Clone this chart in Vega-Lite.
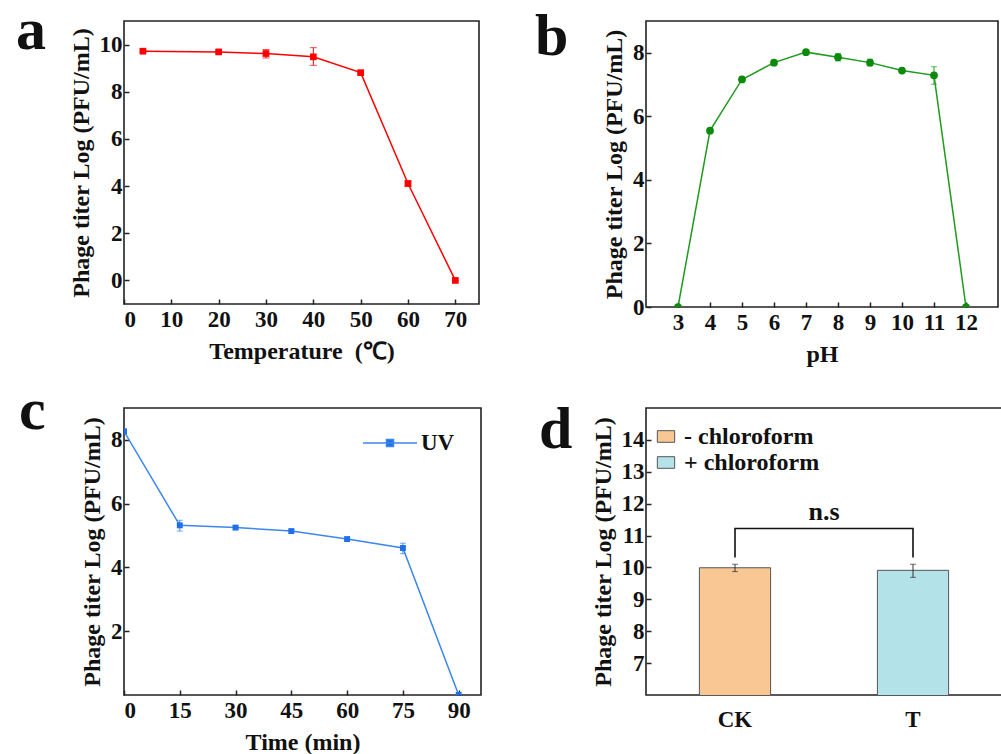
{
  "$schema": "https://vega.github.io/schema/vega-lite/v6.json",
  "background": "white",
  "padding": {"left": 15, "top": 0, "right": 0, "bottom": 0},
  "columns": 2,
  "spacing": {"row": 13, "column": 52},
  "resolve": {"scale": {"color": "independent"}, "legend": {"color": "independent"}},
  "config": {
    "font": "Liberation Serif",
    "view": {"stroke": "#222222", "strokeWidth": 1.6},
    "title": {"font": "Liberation Serif", "fontWeight": "bold", "color": "#111111"},
    "axis": {
      "labelFont": "Liberation Serif", "labelFontWeight": "bold", "labelFontSize": 23, "labelColor": "#111111",
      "titleFont": "Liberation Serif", "titleFontWeight": "bold", "titleFontSize": 24, "titleColor": "#111111",
      "grid": false, "domain": false, "tickSize": -5, "tickWidth": 1.5, "tickColor": "#222222",
      "labelPadding": 7, "titlePadding": 6
    },
    "axisX": {"labelPadding": 9, "titlePadding": 8},
    "legend": {"labelFont": "Liberation Serif", "labelFontWeight": "bold", "labelColor": "#111111"}
  },
  "concat": [
    {
      "width": 355, "height": 283,
      "title": {"text": "a", "anchor": "start", "frame": "group", "fontSize": 60, "dx": -108, "dy": 88, "baseline": "alphabetic", "offset": 0},
      "data": {"values": [
        {"temp": 4, "titer": 9.72, "lo": 9.68, "hi": 9.76},
        {"temp": 20, "titer": 9.69, "lo": 9.65, "hi": 9.73},
        {"temp": 30, "titer": 9.62, "lo": 9.43, "hi": 9.79},
        {"temp": 40, "titer": 9.48, "lo": 9.12, "hi": 9.87},
        {"temp": 50, "titer": 8.81, "lo": 8.77, "hi": 8.85},
        {"temp": 60, "titer": 4.11, "lo": 4.0, "hi": 4.2},
        {"temp": 70, "titer": 0, "lo": 0, "hi": 0}
      ]},
      "encoding": {
        "x": {"field": "temp", "type": "quantitative", "scale": {"domain": [0, 75]}, "axis": {"values": [0, 10, 20, 30, 40, 50, 60, 70], "title": "Temperature\u2002(℃)"}}
      },
      "layer": [
        {"mark": {"type": "line", "color": "#ff0000", "strokeWidth": 1.5},
         "encoding": {"y": {"field": "titer", "type": "quantitative", "scale": {"domain": [-1, 11]}, "axis": {"values": [0, 2, 4, 6, 8, 10]}, "title": "Phage titer Log (PFU/mL)"}}},
        {"mark": {"type": "errorbar", "color": "#ff0000", "thickness": 1, "ticks": {"size": 7, "thickness": 1}},
         "encoding": {"y": {"field": "lo", "type": "quantitative", "title": "Phage titer Log (PFU/mL)"}, "y2": {"field": "hi"}}},
        {"mark": {"type": "point", "shape": "square", "filled": true, "size": 45, "color": "#ff0000", "opacity": 1},
         "encoding": {"y": {"field": "titer", "type": "quantitative", "title": "Phage titer Log (PFU/mL)"}}}
      ]
    },
    {
      "width": 352, "height": 286,
      "title": {"text": "b", "anchor": "start", "frame": "group", "fontSize": 60, "dx": -111, "dy": 94, "baseline": "alphabetic", "offset": 0},
      "data": {"values": [
        {"ph": 3, "titer": 0, "lo": 0, "hi": 0},
        {"ph": 4, "titer": 5.55, "lo": 5.5, "hi": 5.6},
        {"ph": 5, "titer": 7.16, "lo": 7.11, "hi": 7.21},
        {"ph": 6, "titer": 7.69, "lo": 7.64, "hi": 7.74},
        {"ph": 7, "titer": 8.02, "lo": 7.98, "hi": 8.06},
        {"ph": 8, "titer": 7.86, "lo": 7.74, "hi": 7.98},
        {"ph": 9, "titer": 7.69, "lo": 7.59, "hi": 7.8},
        {"ph": 10, "titer": 7.44, "lo": 7.39, "hi": 7.49},
        {"ph": 11, "titer": 7.29, "lo": 7.01, "hi": 7.56},
        {"ph": 12, "titer": 0, "lo": 0, "hi": 0}
      ]},
      "encoding": {
        "x": {"field": "ph", "type": "quantitative", "scale": {"domain": [2, 13]}, "axis": {"values": [3, 4, 5, 6, 7, 8, 9, 10, 11, 12], "title": "pH"}}
      },
      "layer": [
        {"mark": {"type": "line", "color": "#1e9a1e", "strokeWidth": 1.5, "clip": true},
         "encoding": {"y": {"field": "titer", "type": "quantitative", "scale": {"domain": [0, 9]}, "axis": {"values": [0, 2, 4, 6, 8]}, "title": "Phage titer Log (PFU/mL)"}}},
        {"mark": {"type": "errorbar", "color": "#1e9a1e", "thickness": 1, "ticks": {"size": 6, "thickness": 1}, "clip": true},
         "encoding": {"y": {"field": "lo", "type": "quantitative", "title": "Phage titer Log (PFU/mL)"}, "y2": {"field": "hi"}}},
        {"mark": {"type": "point", "shape": "circle", "filled": true, "size": 60, "color": "#0b8a0b", "opacity": 1, "clip": true},
         "encoding": {"y": {"field": "titer", "type": "quantitative", "title": "Phage titer Log (PFU/mL)"}}}
      ]
    },
    {
      "width": 357, "height": 287,
      "title": {"text": "c", "anchor": "start", "frame": "group", "fontSize": 60, "dx": -105, "dy": 81, "baseline": "alphabetic", "offset": 0},
      "data": {"values": [
        {"time": 0, "titer": 8.27, "lo": 8.22, "hi": 8.32, "series": "UV"},
        {"time": 15, "titer": 5.32, "lo": 5.14, "hi": 5.48, "series": "UV"},
        {"time": 30, "titer": 5.25, "lo": 5.2, "hi": 5.3, "series": "UV"},
        {"time": 45, "titer": 5.14, "lo": 5.09, "hi": 5.19, "series": "UV"},
        {"time": 60, "titer": 4.89, "lo": 4.84, "hi": 4.94, "series": "UV"},
        {"time": 75, "titer": 4.61, "lo": 4.43, "hi": 4.76, "series": "UV"},
        {"time": 90, "titer": 0, "lo": 0, "hi": 0, "series": "UV"}
      ]},
      "encoding": {
        "x": {"field": "time", "type": "quantitative", "scale": {"domain": [0, 96]}, "axis": {"values": [0, 15, 30, 45, 60, 75, 90], "title": "Time (min)"}}
      },
      "layer": [
        {"mark": {"type": "line", "strokeWidth": 1.5, "clip": true},
         "encoding": {
           "y": {"field": "titer", "type": "quantitative", "scale": {"domain": [0.2, 9]}, "axis": {"values": [2, 4, 6, 8]}, "title": "Phage titer Log (PFU/mL)"},
           "color": {"field": "series", "type": "nominal", "scale": {"domain": ["UV"], "range": ["#3d86ee"]},
             "legend": {"title": null, "orient": "none", "legendX": 238, "legendY": 7, "padding": 0, "labelFontSize": 23, "labelOffset": 3,
               "symbolType": "M -1 0 L 1 0 M -0.13 -0.13 L 0.13 -0.13 L 0.13 0.13 L -0.13 0.13 Z", "symbolSize": 2916,
               "encode": {"symbols": {"update": {"fill": {"value": "#1f6fe8"}, "stroke": {"value": "#3d86ee"}, "strokeWidth": {"value": 1.5}, "opacity": {"value": 1}}}}}}
         }},
        {"mark": {"type": "errorbar", "color": "#3d86ee", "thickness": 1, "ticks": {"size": 6, "thickness": 1}, "clip": true},
         "encoding": {"y": {"field": "lo", "type": "quantitative", "title": "Phage titer Log (PFU/mL)"}, "y2": {"field": "hi"}}},
        {"mark": {"type": "point", "shape": "square", "filled": true, "size": 35, "color": "#1f6fe8", "opacity": 1, "clip": true},
         "encoding": {"y": {"field": "titer", "type": "quantitative", "title": "Phage titer Log (PFU/mL)"}}}
      ]
    },
    {
      "width": 356, "height": 287,
      "title": {"text": "d", "anchor": "start", "frame": "group", "fontSize": 60, "dx": -107, "dy": 100, "baseline": "alphabetic", "offset": 0},
      "layer": [
        {
          "data": {"values": [
            {"sample": "CK", "group": "- chloroform", "titer": 9.99, "lo": 9.87, "hi": 10.1},
            {"sample": "T", "group": "+ chloroform", "titer": 9.91, "lo": 9.69, "hi": 10.1}
          ]},
          "layer": [
            {"mark": {"type": "bar", "stroke": "#555555", "strokeWidth": 1, "clip": true},
             "encoding": {
               "x": {"field": "sample", "type": "nominal", "sort": ["CK", "T"], "scale": {"paddingInner": 0.6, "paddingOuter": 0.3}, "axis": {"title": null, "labelAngle": 0, "ticks": false, "labelPadding": 13}},
               "y": {"field": "titer", "type": "quantitative", "scale": {"domain": [6.83, 14.2], "zero": false}, "axis": {"values": [7, 8, 9, 10, 11, 12, 13, 14]}, "title": "Phage titer Log (PFU/mL)"},
               "color": {"field": "group", "type": "nominal", "scale": {"domain": ["- chloroform", "+ chloroform"], "range": ["#f9c794", "#b3e2e8"]},
                 "legend": {"title": null, "orient": "none", "legendX": 8, "legendY": 16.5, "padding": 0, "labelFontSize": 24, "labelOffset": 6, "rowPadding": 2,
                   "symbolType": "M -1 -0.67 L 1 -0.67 L 1 0.67 L -1 0.67 Z", "symbolSize": 300, "symbolStrokeColor": "#555555", "symbolStrokeWidth": 1,
                   "encode": {"symbols": {"update": {"stroke": {"value": "#555555"}, "strokeWidth": {"value": 1}, "opacity": {"value": 1}}}}}}
             }},
            {"mark": {"type": "errorbar", "color": "#333333", "thickness": 1, "ticks": {"size": 6, "thickness": 1}},
             "encoding": {
               "x": {"field": "sample", "type": "nominal", "sort": ["CK", "T"]},
               "y": {"field": "lo", "type": "quantitative", "title": "Phage titer Log (PFU/mL)"}, "y2": {"field": "hi"}}}
          ]
        },
        {
          "data": {"values": [
            {"sample": "CK", "by": 10.31, "o": 1},
            {"sample": "CK", "by": 11.22, "o": 2},
            {"sample": "T", "by": 11.22, "o": 3},
            {"sample": "T", "by": 10.31, "o": 4}
          ]},
          "mark": {"type": "line", "color": "#111111", "strokeWidth": 1.6},
          "encoding": {
            "x": {"field": "sample", "type": "nominal", "sort": ["CK", "T"]},
            "y": {"field": "by", "type": "quantitative", "title": "Phage titer Log (PFU/mL)"},
            "order": {"field": "o"}
          }
        },
        {
          "data": {"values": [{"label": "n.s", "ly": 11.48}]},
          "mark": {"type": "text", "font": "Liberation Serif", "fontWeight": "bold", "fontSize": 26, "baseline": "alphabetic", "color": "#111111"},
          "encoding": {
            "y": {"field": "ly", "type": "quantitative", "title": "Phage titer Log (PFU/mL)"},
            "text": {"field": "label"}
          }
        }
      ]
    }
  ]
}
